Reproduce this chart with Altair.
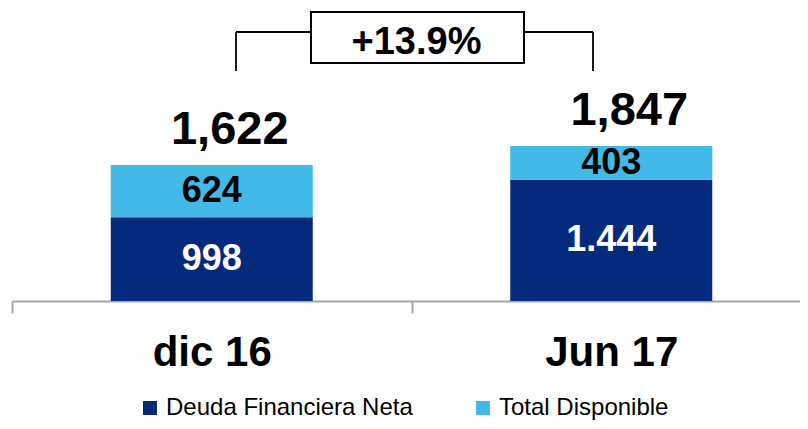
import altair as alt
import pandas as pd

# ---- data ----
periods = ["dic 16", "Jun 17"]
series = ["Deuda Financiera Neta", "Total Disponible"]
deuda = [998, 1444]
disponible = [624, 403]
deuda_labels = ["998", "1.444"]
disponible_labels = ["624", "403"]
totals = [1622, 1847]
total_labels = ["1,622", "1,847"]
change_label = "+13.9%"

colors = ["#05297D", "#42B9E6"]
FONT = "Liberation Sans"

rows = []
for i, p in enumerate(periods):
    rows.append({"period": p, "series": series[0], "value": deuda[i], "order": 0,
                 "label": deuda_labels[i], "y0": 0, "y1": deuda[i], "lc": "white"})
    rows.append({"period": p, "series": series[1], "value": disponible[i], "order": 1,
                 "label": disponible_labels[i], "y0": deuda[i], "y1": deuda[i] + disponible[i], "lc": "black"})
df = pd.DataFrame(rows)
df["mid"] = (df["y0"] + df["y1"]) / 2

tot = pd.DataFrame({"period": periods, "total": totals, "label": total_labels})

xscale = alt.Scale(domain=periods, range=[0, 799], paddingInner=0, paddingOuter=0)
yscale = alt.Scale(domain=[0, 3493], nice=False, zero=True)

x_enc = alt.X("period:N", scale=xscale, sort=periods,
              axis=alt.Axis(title=None, labelAngle=0, labelFontSize=42, labelFont=FONT,
                            labelFontWeight="bold", labelColor="black", domainColor="#A6A6A6",
                            domainWidth=2, tickColor="#A6A6A6", tickWidth=2, tickSize=12,
                            tickBand="extent", labelPadding=19, grid=False))

bars = alt.Chart(df).mark_bar(size=202).encode(
    x=x_enc,
    y=alt.Y("y0:Q", scale=yscale, axis=None),
    y2="y1:Q",
    color=alt.Color("series:N", scale=alt.Scale(domain=series, range=colors),
                    legend=alt.Legend(title=None, orient="none", legendX=126, legendY=388,
                                      direction="horizontal", columns=2, symbolType="square",
                                      symbolSize=196, symbolStrokeWidth=0, labelFont=FONT,
                                      labelFontSize=24, labelColor="black", labelOffset=4,
                                      columnPadding=58, labelLimit=400, padding=0)),
    order="order:Q",
)

seg_text = alt.Chart(df).mark_text(font=FONT, fontSize=36, fontWeight="bold", baseline="middle").encode(
    x=alt.X("period:N", scale=xscale, sort=periods),
    y=alt.Y("mid:Q", scale=yscale),
    text="label:N",
    color=alt.Color("lc:N", scale=None),
)

tot_text = alt.Chart(tot).mark_text(font=FONT, fontSize=47, fontWeight="bold",
                                    baseline="alphabetic", dx=18, dy=-21, color="black").encode(
    x=alt.X("period:N", scale=xscale, sort=periods),
    y=alt.Y("total:Q", scale=yscale),
    text="label:N",
)

# ---- change bracket annotation (pixel layout) ----
one = pd.DataFrame({"k": [0]})
lw = 1.8
l1 = alt.Chart(one).mark_rule(color="black", strokeWidth=lw).encode(
    x=alt.value(224), y=alt.value(24), y2=alt.value(63))
l2 = alt.Chart(one).mark_rule(color="black", strokeWidth=lw).encode(
    x=alt.value(224), x2=alt.value(299), y=alt.value(24))
l3 = alt.Chart(one).mark_rule(color="black", strokeWidth=lw).encode(
    x=alt.value(512), x2=alt.value(581), y=alt.value(24))
l4 = alt.Chart(one).mark_rule(color="black", strokeWidth=lw).encode(
    x=alt.value(581), y=alt.value(24), y2=alt.value(63))
box = alt.Chart(one).mark_rect(fill="white", stroke="black", strokeWidth=2).encode(
    x=alt.value(299), x2=alt.value(512), y=alt.value(4), y2=alt.value(55))
box_text = alt.Chart(one).mark_text(font=FONT, fontSize=38, fontWeight="bold",
                                    baseline="middle", align="center", color="black").encode(
    x=alt.value(404.5), y=alt.value(35), text=alt.value(change_label))

chart = alt.layer(bars, seg_text, tot_text, l1, l2, l3, l4, box, box_text).properties(
    width=788, height=293,
    autosize=alt.AutoSizeParams(type="none"),
    padding={"left": 4, "top": 0, "right": 0, "bottom": 120},
).configure_view(stroke=None)

chart.save("out.html", embed_options={"renderer": "svg", "actions": False})
